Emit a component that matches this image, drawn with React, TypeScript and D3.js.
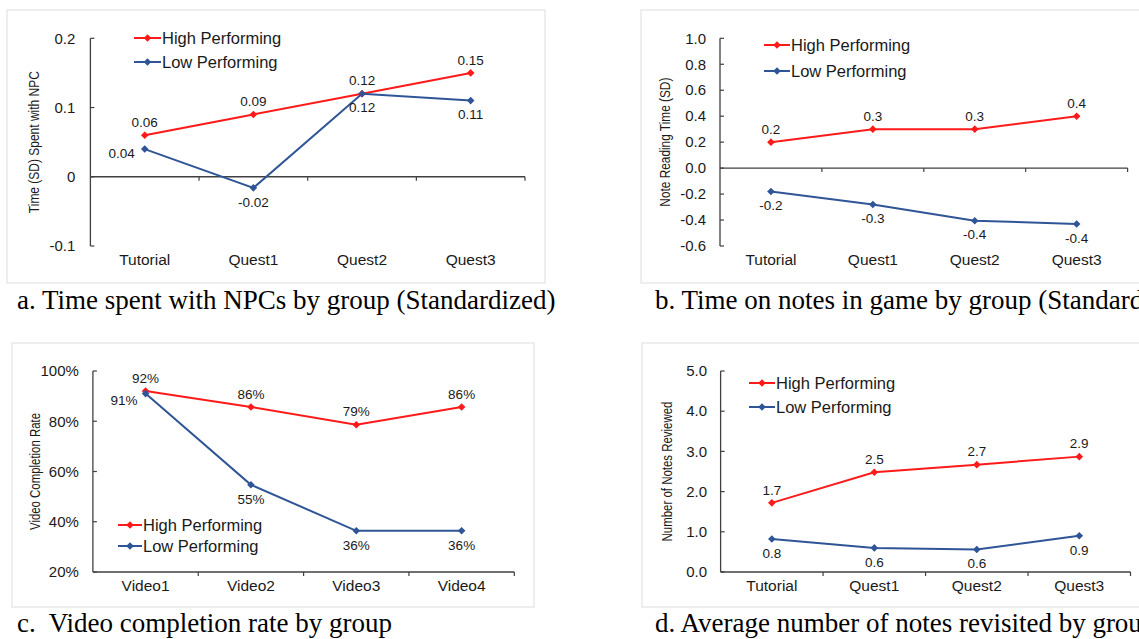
import React from "react";
import * as d3 from "d3";

const RED = "#ff1a1a";
const BLUE = "#2f5597";
const AXIS = "#404040";
const TEXT = "#1a1a1a";

// Panel a
const catsA = ["Tutorial", "Quest1", "Quest2", "Quest3"];
const highA = [0.06, 0.09, 0.12, 0.15];
const lowA = [0.04, -0.016, 0.12, 0.11];
const highLabA = ["0.06", "0.09", "0.12", "0.15"];
const lowLabA = ["0.04", "-0.02", "0.12", "0.11"];
const ticksA = [-0.1, 0, 0.1, 0.2];
const tickLabA = ["-0.1", "0", "0.1", "0.2"];

// Panel b
const catsB = ["Tutorial", "Quest1", "Quest2", "Quest3"];
const highB = [0.2, 0.3, 0.3, 0.4];
const lowB = [-0.18, -0.28, -0.405, -0.43];
const highLabB = ["0.2", "0.3", "0.3", "0.4"];
const lowLabB = ["-0.2", "-0.3", "-0.4", "-0.4"];
const ticksB = [-0.6, -0.4, -0.2, 0, 0.2, 0.4, 0.6, 0.8, 1.0];
const tickLabB = ["-0.6", "-0.4", "-0.2", "0.0", "0.2", "0.4", "0.6", "0.8", "1.0"];

// Panel c
const catsC = ["Video1", "Video2", "Video3", "Video4"];
const highC = [0.92, 0.857, 0.786, 0.857];
const lowC = [0.91, 0.547, 0.364, 0.364];
const highLabC = ["92%", "86%", "79%", "86%"];
const lowLabC = ["91%", "55%", "36%", "36%"];
const ticksC = [0.2, 0.4, 0.6, 0.8, 1.0];
const tickLabC = ["20%", "40%", "60%", "80%", "100%"];

// Panel d
const catsD = ["Tutorial", "Quest1", "Quest2", "Quest3"];
const highD = [1.72, 2.48, 2.67, 2.87];
const lowD = [0.82, 0.6, 0.56, 0.9];
const highLabD = ["1.7", "2.5", "2.7", "2.9"];
const lowLabD = ["0.8", "0.6", "0.6", "0.9"];
const ticksD = [0, 1, 2, 3, 4, 5];
const tickLabD = ["0.0", "1.0", "2.0", "3.0", "4.0", "5.0"];

const seriesNames = ["High Performing", "Low Performing"];

type PanelProps = {
  frame: [number, number, number, number];
  xr: [number, number];
  yr: [number, number];
  domain: [number, number];
  cats: string[];
  high: number[];
  low: number[];
  highLab: string[];
  lowLab: string[];
  ticks: number[];
  tickLab: string[];
  xAxisAt: number;
  title: string;
  titleX: number;
  titleLen: number;
  legend: [number, number, number, number];
  caption: string;
  capX: number;
  capY: number;
  tickLabGap: number;
  lowPos: (i: number) => [number, number, string];
};

function Diamond({ x, y, color }: { x: number; y: number; color: string }) {
  const r = 3.8;
  return <path d={`M${x},${y - r}L${x + r},${y}L${x},${y + r}L${x - r},${y}Z`} fill={color} />;
}

function Panel(p: PanelProps) {
  const x = d3.scaleBand<string>().domain(p.cats).range(p.xr).padding(0);
  const y = d3.scaleLinear().domain(p.domain).range(p.yr);
  const cx = (c: string) => (x(c) as number) + x.bandwidth() / 2;
  const line = d3
    .line<number>()
    .x((_, i) => cx(p.cats[i]))
    .y((v) => y(v));
  const axY = y(p.xAxisAt);
  const [lx1, lx2, ly1, ly2] = p.legend;
  const tMid = (p.yr[0] + p.yr[1]) / 2;
  return (
    <g>
      <rect x={p.frame[0]} y={p.frame[1]} width={p.frame[2]} height={p.frame[3]} fill="#fff" stroke="#e3e3e3" strokeWidth={1.2} />
      {/* y axis */}
      <line x1={p.xr[0]} x2={p.xr[0]} y1={p.yr[0]} y2={p.yr[1]} stroke={AXIS} strokeWidth={1.3} />
      {p.ticks.map((t, i) => (
        <g key={"t" + i}>
          <line x1={p.xr[0]} x2={p.xr[0] + 4} y1={y(t)} y2={y(t)} stroke={AXIS} strokeWidth={1.2} />
          <text x={p.xr[0] - p.tickLabGap} y={y(t)} dy="0.35em" textAnchor="end" fontSize={15} fill={TEXT}>
            {p.tickLab[i]}
          </text>
        </g>
      ))}
      {/* x axis */}
      <line x1={p.xr[0]} x2={p.xr[1]} y1={axY} y2={axY} stroke={AXIS} strokeWidth={1.3} />
      {p.cats.map((c, i) => (
        <g key={"c" + i}>
          <line x1={(x(c) as number) + x.bandwidth()} x2={(x(c) as number) + x.bandwidth()} y1={axY} y2={axY + 4} stroke={AXIS} strokeWidth={1.2} />
          <text x={cx(c)} y={p.yr[0] + 14} dy="0.35em" textAnchor="middle" fontSize={15.5} fill={TEXT}>
            {c}
          </text>
        </g>
      ))}
      {/* axis title */}
      <text
        transform={`translate(${p.titleX},${tMid}) rotate(-90)`}
        textAnchor="middle"
        dy="0.35em"
        fontSize={14.5}
        fill={TEXT}
        textLength={p.titleLen}
        lengthAdjust="spacingAndGlyphs"
      >
        {p.title}
      </text>
      {/* lines */}
      <path d={line(p.high) || ""} fill="none" stroke={RED} strokeWidth={2} />
      <path d={line(p.low) || ""} fill="none" stroke={BLUE} strokeWidth={2} />
      {p.high.map((v, i) => (
        <Diamond key={"h" + i} x={cx(p.cats[i])} y={y(v)} color={RED} />
      ))}
      {p.low.map((v, i) => (
        <Diamond key={"l" + i} x={cx(p.cats[i])} y={y(v)} color={BLUE} />
      ))}
      {p.high.map((v, i) => (
        <text key={"hl" + i} x={cx(p.cats[i])} y={y(v) - 13} dy="0.35em" textAnchor="middle" fontSize={13.5} fill={TEXT}>
          {p.highLab[i]}
        </text>
      ))}
      {p.low.map((v, i) => {
        const [dx, dyy, anchor] = p.lowPos(i);
        return (
          <text key={"ll" + i} x={cx(p.cats[i]) + dx} y={y(v) + dyy} dy="0.35em" textAnchor={anchor as any} fontSize={13.5} fill={TEXT}>
            {p.lowLab[i]}
          </text>
        );
      })}
      {/* legend */}
      {[ly1, ly2].map((ly, i) => (
        <g key={"lg" + i}>
          <line x1={lx1} x2={lx2} y1={ly} y2={ly} stroke={i === 0 ? RED : BLUE} strokeWidth={2} />
          <Diamond x={(lx1 + lx2) / 2} y={ly} color={i === 0 ? RED : BLUE} />
          <text x={lx2 + 1} y={ly} dy="0.35em" fontSize={16.5} fill={TEXT}>
            {seriesNames[i]}
          </text>
        </g>
      ))}
      {/* caption */}
      <text x={p.capX} y={p.capY} fontFamily="'Liberation Serif', 'Times New Roman', serif" fontSize={27} fill="#000" style={{ whiteSpace: "pre" }}>
        {p.caption}
      </text>
    </g>
  );
}

export default function App() {
  return (
    <svg width={1139} height={639} style={{ position: "absolute", left: 0, top: 0, fontFamily: "'Liberation Sans', Arial, sans-serif", background: "#fff" }}>
      <rect x={0} y={0} width={1139} height={639} fill="#fff" />
      <Panel
        frame={[7, 10, 538, 273]}
        xr={[90.4, 525]}
        yr={[246, 38.3]}
        domain={[-0.1, 0.2]}
        cats={catsA}
        high={highA}
        low={lowA}
        highLab={highLabA}
        lowLab={lowLabA}
        ticks={ticksA}
        tickLab={tickLabA}
        xAxisAt={0}
        title="Time (SD) Spent with NPC"
        titleX={34}
        titleLen={142}
        legend={[134, 161, 38, 62]}
        caption="a. Time spent with NPCs by group (Standardized)"
        capX={17}
        capY={309}
        tickLabGap={15}
        lowPos={(i) => (i === 0 ? [-10, 4, "end"] : [0, 14, "middle"])}
      />
      <Panel
        frame={[641, 10, 520, 273]}
        xr={[720, 1127.6]}
        yr={[246, 38.3]}
        domain={[-0.6, 1.0]}
        cats={catsB}
        high={highB}
        low={lowB}
        highLab={highLabB}
        lowLab={lowLabB}
        ticks={ticksB}
        tickLab={tickLabB}
        xAxisAt={0}
        title="Note Reading Time (SD)"
        titleX={665}
        titleLen={129}
        legend={[764, 790, 45, 71]}
        caption="b. Time on notes in game by group (Standardized)"
        capX={655}
        capY={309}
        tickLabGap={14}
        lowPos={() => [0, 14, "middle"]}
      />
      <Panel
        frame={[12, 343, 522, 264]}
        xr={[92.9, 514.3]}
        yr={[572, 371]}
        domain={[0.2, 1.0]}
        cats={catsC}
        high={highC}
        low={lowC}
        highLab={highLabC}
        lowLab={lowLabC}
        ticks={ticksC}
        tickLab={tickLabC}
        xAxisAt={0.2}
        title="Video Completion Rate"
        titleX={35}
        titleLen={117}
        legend={[118, 142, 525, 546]}
        caption="c.  Video completion rate by group"
        capX={17}
        capY={632}
        tickLabGap={14}
        lowPos={(i) => (i === 0 ? [-8, 7, "end"] : [0, 14, "middle"])}
      />
      <Panel
        frame={[642, 343, 520, 264]}
        xr={[720.6, 1130.5]}
        yr={[572, 371]}
        domain={[0, 5]}
        cats={catsD}
        high={highD}
        low={lowD}
        highLab={highLabD}
        lowLab={lowLabD}
        ticks={ticksD}
        tickLab={tickLabD}
        xAxisAt={0}
        title="Number of Notes Reviewed"
        titleX={667}
        titleLen={140}
        legend={[749, 775, 383, 407]}
        caption="d. Average number of notes revisited by group"
        capX={655}
        capY={632}
        tickLabGap={13.5}
        lowPos={() => [0, 14, "middle"]}
      />
    </svg>
  );
}
